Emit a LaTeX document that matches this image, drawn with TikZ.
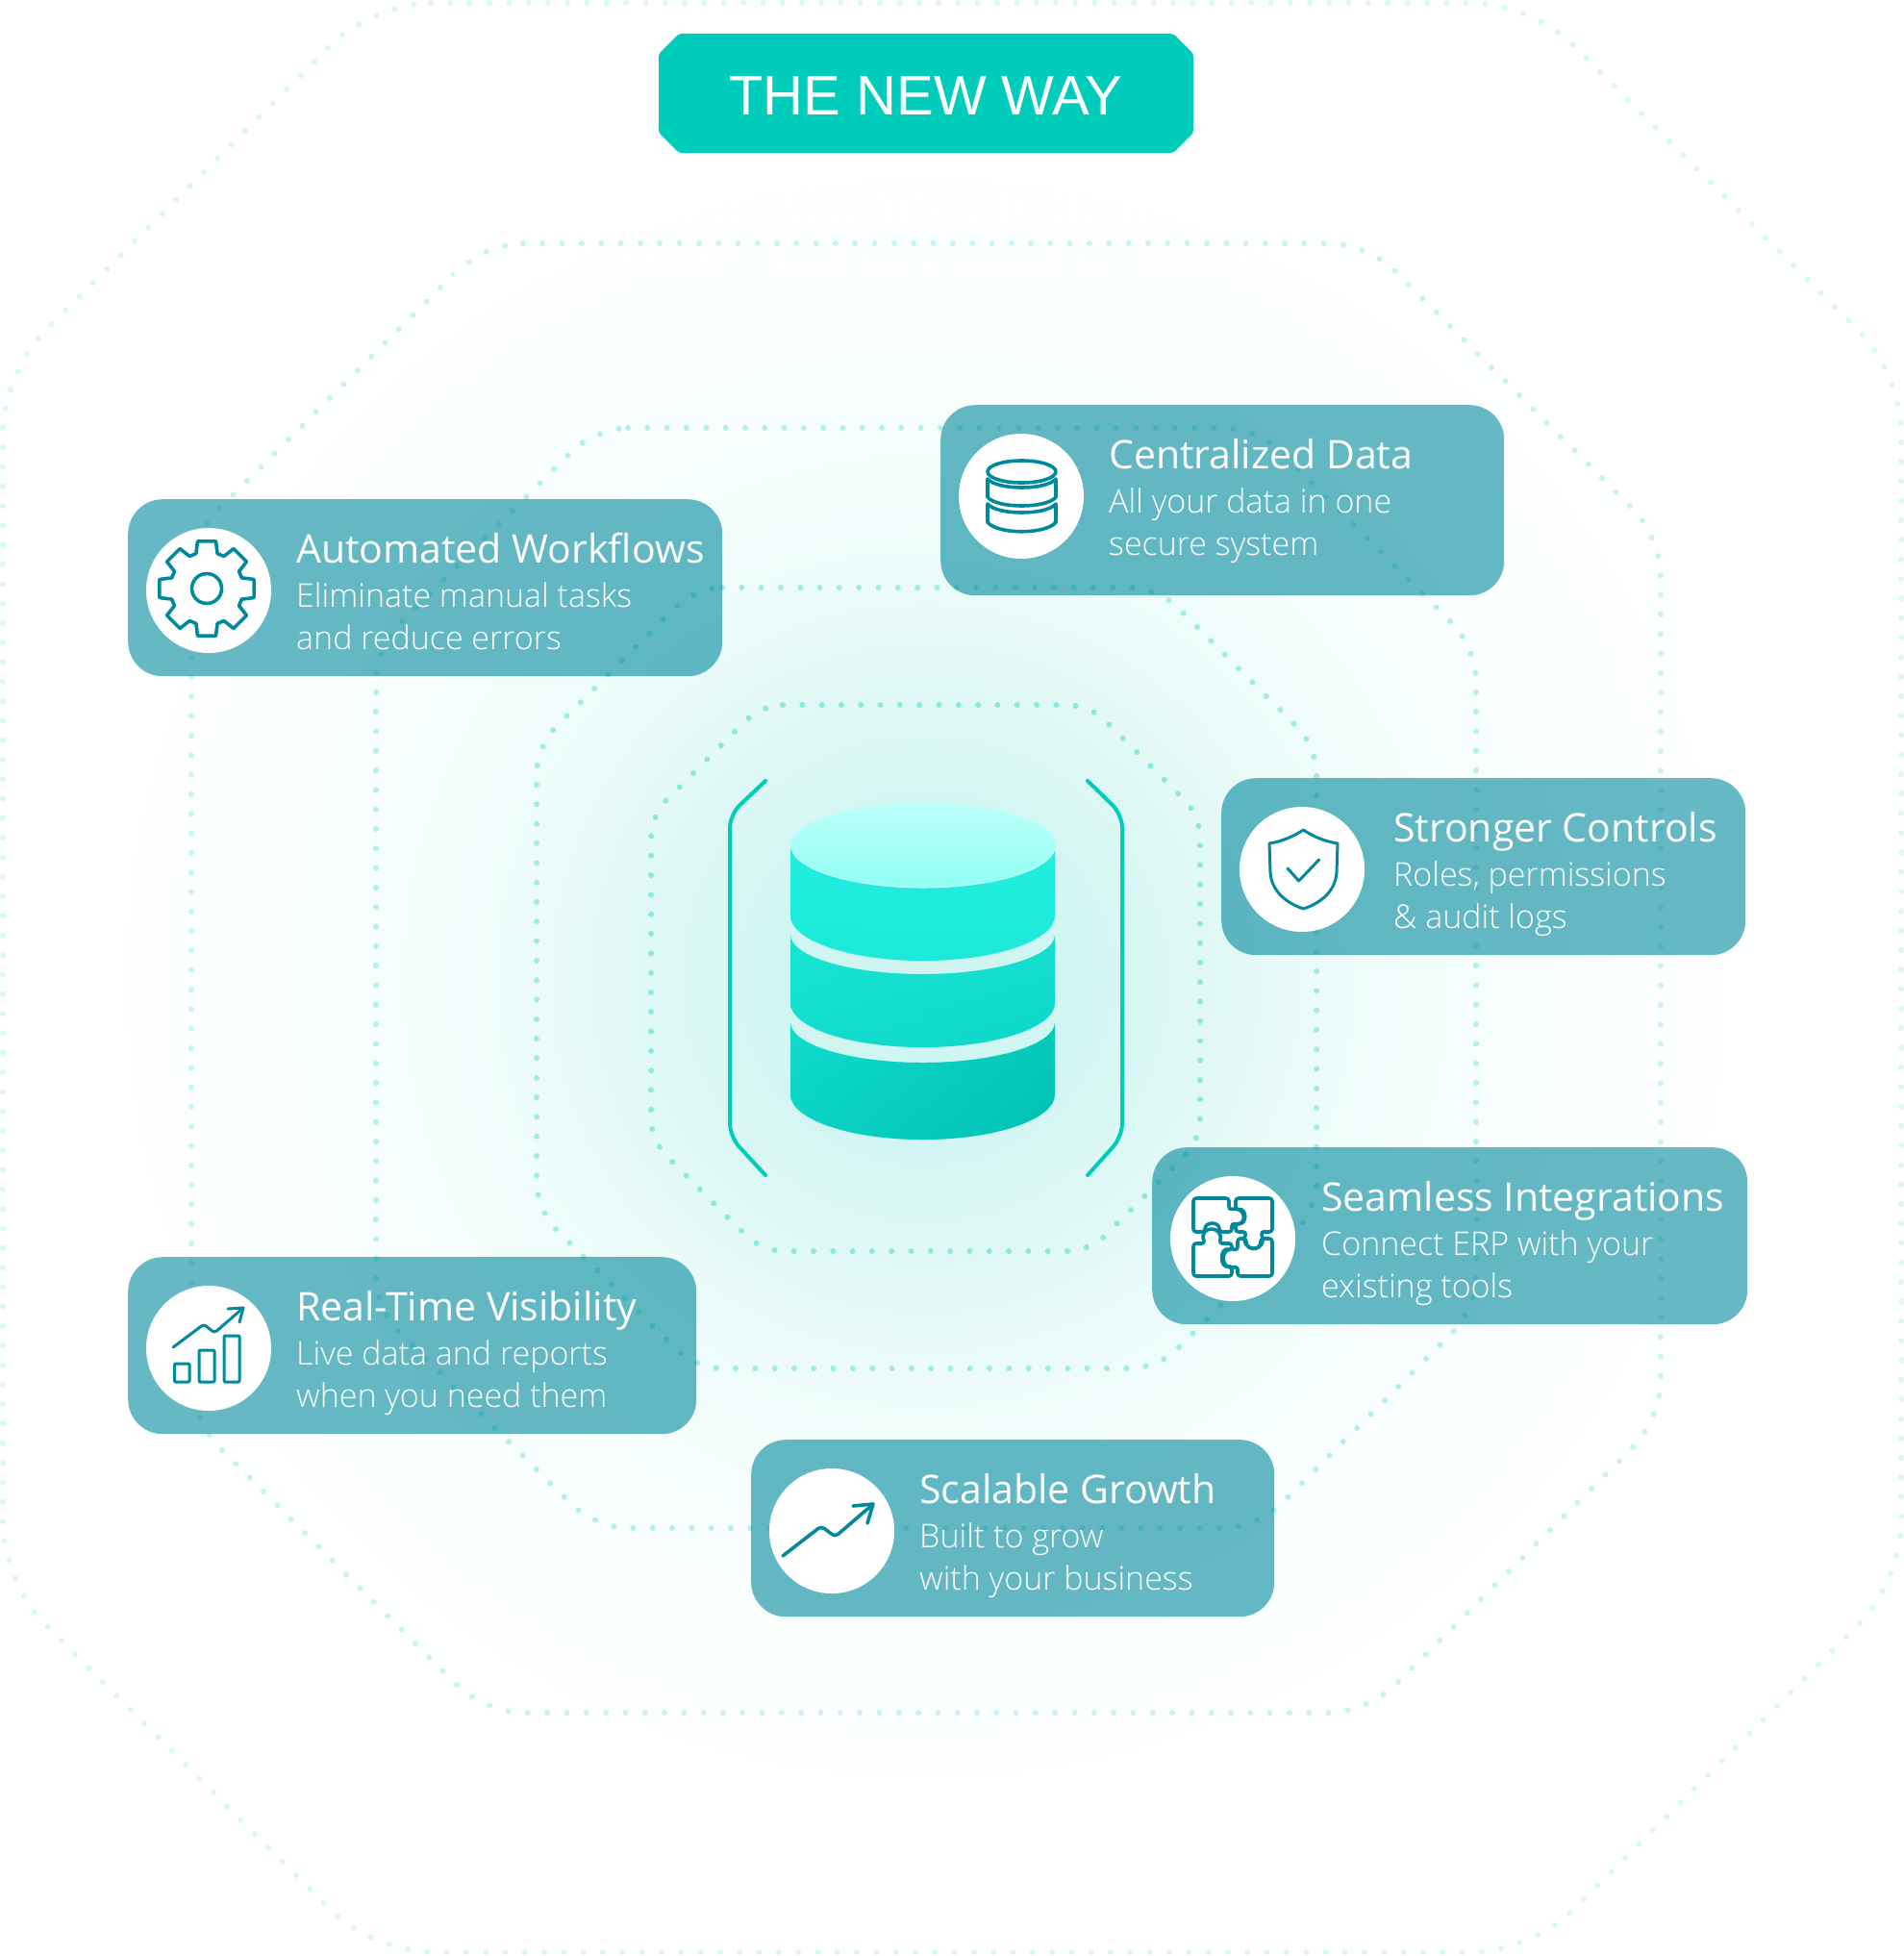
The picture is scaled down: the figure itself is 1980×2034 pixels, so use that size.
\documentclass[tikz,border=0pt]{standalone}
\usepackage{fontspec}
\setmainfont{Open Sans}
\newfontfamily\lightfont{Open Sans Light}
\newfontfamily\bannerfont{Liberation Sans}
\usetikzlibrary{
    positioning,
    calc,
    shapes.misc}
\definecolor{bannerteal}{HTML}{00CCBC}
\definecolor{iconteal}{HTML}{00899D}
\definecolor{glowa}{HTML}{CDF5F0}
\definecolor{glowb}{HTML}{D2F6F2}
\definecolor{glowc}{HTML}{DEF8F5}
\definecolor{glowd}{HTML}{EBFBF9}
\definecolor{glowe}{HTML}{F6FEFD}
\definecolor{glowf}{HTML}{FCFFFF}
\definecolor{lidtop}{HTML}{BDFFFA}
\definecolor{lidlow}{HTML}{90FFF3}
\pgfdeclareradialshading{ringglow}{\pgfpointorigin}{
    color(0bp)=(glowa); color(4.7bp)=(glowb); color(7.9bp)=(glowc);
    color(11.25bp)=(glowd); color(16bp)=(glowe); color(21.1bp)=(glowf);
    color(25bp)=(white); color(50bp)=(white)}
\begin{document}
\begin{tikzpicture}
    [
    x=1pt, y=-1pt,
    ringdots/.style={line width=6pt, line cap=round, dash pattern=on 0.01pt off 20.3pt},
    banner/.style={chamfered rectangle, chamfered rectangle xsep=12pt, chamfered rectangle ysep=9pt,
        fill=bannerteal, rounded corners=3pt, minimum width=556pt, minimum height=124pt, inner sep=0,
        text=white, font=\bannerfont\fontsize{58}{70}\selectfont},
    ghost/.style={text=white, inner sep=0, font=\bannerfont\bfseries},
    cardbox/.style={anchor=north west, fill=iconteal, fill opacity=0.6, rounded corners=36pt, inner sep=0},
    discbox/.style={circle, fill=white, minimum size=130pt, inner sep=0},
    heading/.style={anchor=base west, inner sep=0, text=white, font=\fontsize{41}{48}\selectfont},
    subline/.style={anchor=base west, inner sep=0, text=white, font=\lightfont\fontsize{34}{40}\selectfont},
    bracket/.style={draw=bannerteal, line width=4pt, line cap=round, rounded corners=14pt},
    iconline/.style={draw=iconteal, line width=3.6pt, line cap=round, line join=round},
    ]
    \useasboundingbox (0,0) rectangle (1980,2034);
    \shade[shading=ringglow] (962,1017) circle (900);

    % dotted rings, innermost first
    \foreach \cx/\cy/\hx/\hy/\cut/\rad/\tint in {
        962.5/1017/285.5/284/115/22/46,
        963.5/1017/405.5/406/165/28/38,
        963/1017/572/572/228/34/30,
        963/1017/764/764/305/40/22,
        990/1016.5/987/1013.5/385/60/15}
    {
        \draw[ringdots, draw=bannerteal!\tint!white, rounded corners=\rad pt]
            ({\cx-\hx+\cut},{\cy-\hy}) -- ({\cx+\hx-\cut},{\cy-\hy})
            -- ({\cx+\hx},{\cy-\hy+\cut}) -- ({\cx+\hx},{\cy+\hy-\cut})
            -- ({\cx+\hx-\cut},{\cy+\hy}) -- ({\cx-\hx+\cut},{\cy+\hy})
            -- ({\cx-\hx},{\cy+\hy-\cut}) -- ({\cx-\hx},{\cy-\hy+\cut}) -- cycle;
    }

    \node[banner] (title) at (963,97) {\raisebox{-3pt}[\height][0pt]{THE NEW WAY}};
    \node[ghost, font=\bannerfont\bfseries\fontsize{60}{70}\selectfont, anchor=base] (ghostone) at (963,233) {Automated. Connected. In Control.};
    \node[ghost, font=\bannerfont\bfseries\fontsize{42}{48}\selectfont, anchor=base west] (ghosttwo) at (469,287) {source of truth. Real-time insights. Smarter};

    % stacked cylinder
    \foreach \ytop/\rtop/\ybot/\rbot/\sl/\sm/\sr/\sb in {
        879/44/952/47/18E6D6/38FFF0/1AE6D6/20F2E2,
        972/41/1043/46/14E0D0/26F4E4/0CD6C7/0FD8C9,
        1063/42/1138/47/10DACB/14E2D2/00BFB1/00C6B8}
    {
        \definecolor{sidel}{HTML}{\sl}\definecolor{sidem}{HTML}{\sm}
        \definecolor{sider}{HTML}{\sr}\definecolor{sidelow}{HTML}{\sb}
        \shade[left color=sidel, middle color=sidem, right color=sider]
            (822,\ybot) arc[start angle=180, end angle=360, x radius=137.5pt, y radius=\rbot pt]
            -- (1097,\ytop) arc[start angle=0, end angle=-180, x radius=137.5pt, y radius=\rtop pt] -- cycle;
        \shade[top color=sidelow!10!sidem, bottom color=sidelow, opacity=0.35]
            (822,\ybot) arc[start angle=180, end angle=360, x radius=137.5pt, y radius=\rbot pt]
            -- (1097,\ytop) arc[start angle=0, end angle=-180, x radius=137.5pt, y radius=\rtop pt] -- cycle;
    }
    \shade[top color=lidtop, bottom color=lidlow, draw=lidtop, line width=1pt]
        (960,879) ellipse[x radius=137.5pt, y radius=44pt];

    \draw[bracket] (796,812) -- (759,847) -- (759,1182) -- (796,1222);
    \draw[bracket] (1131,812) -- (1167,847) -- (1167,1182) -- (1131,1222);

    % cards
    \foreach \id/\xa/\ya/\cw/\ch/\tx/\head/\lineone/\linetwo in {
        data/978/421/586/198/175/Centralized Data/All your data in one/secure system,
        flow/133/519/618/184/175/Automated Workflows/Eliminate manual tasks/and reduce errors,
        ctrl/1270/809/545/184/179/Stronger Controls/{Roles, permissions}/\& audit logs,
        join/1198/1193/619/184/176/Seamless Integrations/Connect ERP with your/existing tools,
        view/133/1307/591/184/175/Real-Time Visibility/Live data and reports/when you need them,
        grow/781/1497/544/184/175/Scalable Growth/Built to grow/with your business}
    {
        \node[cardbox, minimum width=\cw pt, minimum height=\ch pt] (card\id) at (\xa,\ya) {};
        \node[discbox] (disc\id) at ([shift={(84,95)}]card\id.north west) {};
        \node[heading] (head\id) at ([shift={(\tx,66.5)}]card\id.north west) {\head};
        \node[subline] (one\id) at ([shift={(\tx,112.5)}]card\id.north west) {\lineone};
        \node[subline] (two\id) at ([shift={(\tx,156.5)}]card\id.north west) {\linetwo};
    }

    % icons
    \begin{scope}[shift={(discdata.center)}]
        \draw[iconline] (0.5,-25.5) ellipse[x radius=35.5pt, y radius=11.5pt];
        \draw[iconline] (-35,-18) .. controls (-25,-6) and (26,-6) .. (36,-18) -- (36,1)
            .. controls (26,13) and (-25,13) .. (-35,1) -- cycle;
        \draw[iconline] (-35,8) .. controls (-25,20) and (26,20) .. (36,8) -- (36,27)
            .. controls (26,40) and (-25,40) .. (-35,27) -- cycle;
    \end{scope}
    \begin{scope}[shift={(discflow.center)}]
        \draw[iconline] (-2,-2) circle (15.5);
        \begin{scope}[shift={(-2,-2)}]
            \foreach \a in {0,45,...,315}
                \draw[iconline] (\a-17:38) -- (\a-11:50) -- (\a+11:50) -- (\a+17:38) -- (\a+28:38);
        \end{scope}
    \end{scope}
    \begin{scope}[shift={(discctrl.center)}]
        \draw[iconline, line width=3pt] (-34,-27) .. controls (-20,-29) and (-8,-35) .. (1.5,-41)
            .. controls (10,-35) and (23,-29) .. (37,-27) -- (36,3)
            .. controls (35,22) and (20,35) .. (1.5,41)
            .. controls (-17,35) and (-32,22) .. (-33,3) -- cycle;
        \draw[iconline, line width=3pt] (-15,-1) -- (-3.4,12) -- (17.7,-10);
    \end{scope}
    \begin{scope}[shift={(discjoin.center)}]
        \draw[iconline, rounded corners=3pt] (-41,-42) -- (-4,-42) -- (-4,-30)
            .. controls (15,-34) and (15,-12) .. (-1,-16) -- (-1,-7) -- (-14,-7)
            .. controls (-14,-18) and (-29,-18) .. (-29,-7) -- (-41,-7) -- cycle;
        \draw[iconline, rounded corners=3pt] (3,-42) -- (41,-42) -- (41,-7) -- (29,-7)
            .. controls (37,15) and (7,15) .. (14,-7) -- (3,-7) -- (3,-16)
            .. controls (15,-14) and (15,-32) .. (3,-30) -- cycle;
        \draw[iconline, rounded corners=3pt] (-41,5) -- (-29,5)
            .. controls (-36,-14) and (-9,-14) .. (-14,5) -- (-1,5) -- (-1,12)
            .. controls (-14,8) and (-14,32) .. (-1,28) -- (-1,39) -- (-41,39) -- cycle;
        \draw[iconline, rounded corners=3pt] (41,0) -- (41,39) -- (5,39) -- (5,29)
            .. controls (-14,34) and (-14,7) .. (5,12) -- (5,0) -- (14,0)
            .. controls (14,13) and (29,13) .. (29,0) -- cycle;
    \end{scope}
    \begin{scope}[shift={(discview.center)}]
        \draw[iconline, line width=3pt, rounded corners=1pt] (-35.5,16) rectangle (-20,35);
        \draw[iconline, line width=3pt, rounded corners=1pt] (-10,2) rectangle (6,35);
        \draw[iconline, line width=3pt, rounded corners=1pt] (16,-13) rectangle (32,35);
        \draw[iconline, line width=3pt, rounded corners=3pt] (-37,-1) -- (-5,-25) -- (6,-16) -- (36,-42);
        \draw[iconline, line width=3pt] (20,-41) -- (36,-42) -- (32,-27);
    \end{scope}
    \begin{scope}[shift={(discgrow.center)}]
        \draw[iconline, rounded corners=4pt] (-51,26) -- (-11,-5) -- (3.5,6) -- (43,-28);
        \draw[iconline] (22,-26) -- (43,-28) -- (37,-8);
    \end{scope}
\end{tikzpicture}
\end{document}
